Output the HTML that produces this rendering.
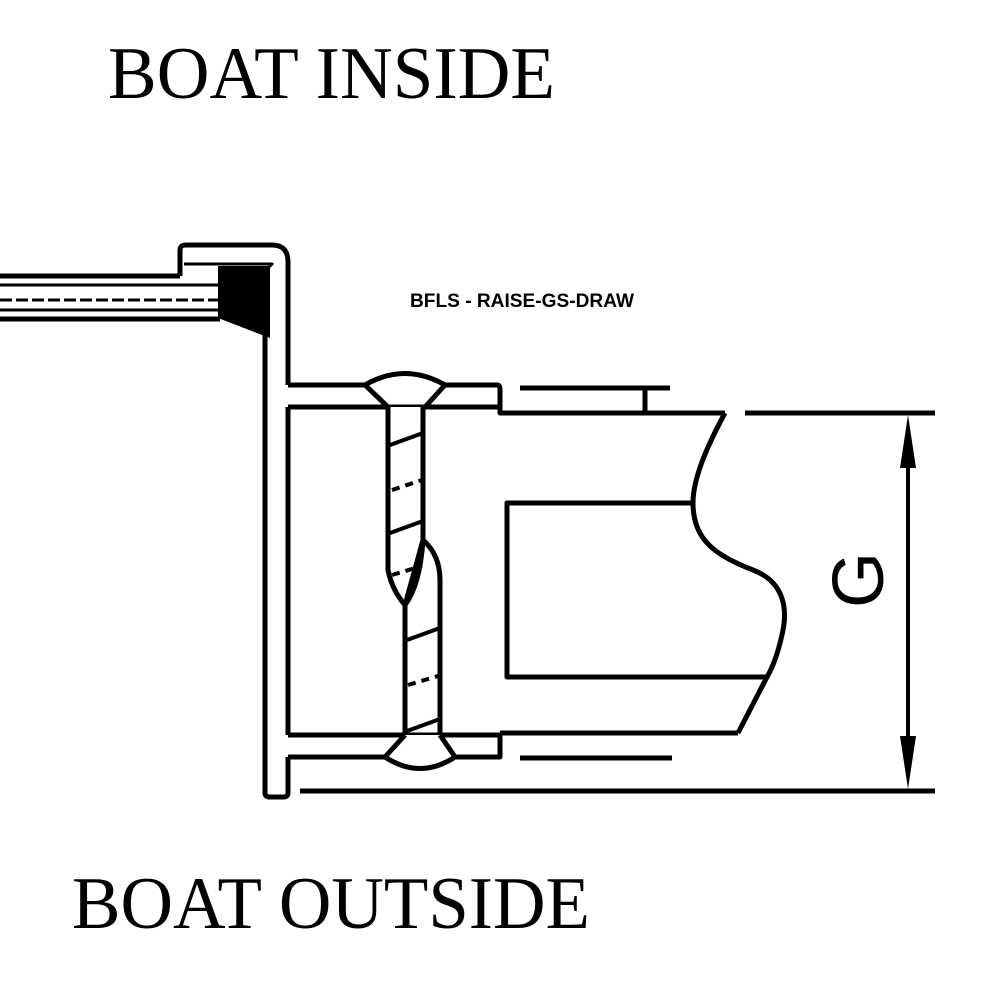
<!DOCTYPE html>
<html><head><meta charset="utf-8"><style>html,body{margin:0;padding:0;background:#fff}svg{display:block}</style></head>
<body>
<svg width="988" height="988" viewBox="0 0 988 988" xmlns="http://www.w3.org/2000/svg">
<rect width="988" height="988" fill="#fff"/>
<text x="108" y="98" font-family="Liberation Serif, serif" font-size="74" textLength="447" lengthAdjust="spacingAndGlyphs">BOAT INSIDE</text>
<text x="72" y="928" font-family="Liberation Serif, serif" font-size="74" textLength="518" lengthAdjust="spacingAndGlyphs">BOAT OUTSIDE</text>
<text x="410" y="307" font-family="Liberation Sans, sans-serif" font-weight="bold" font-size="19" textLength="224" lengthAdjust="spacingAndGlyphs">BFLS - RAISE-GS-DRAW</text>

<g fill="none" stroke="#000" stroke-width="5" stroke-linejoin="round">
<!-- panel lines -->
<line x1="0" y1="276" x2="180" y2="276"/>
<line x1="0" y1="285" x2="220" y2="285" stroke-width="3"/>
<line x1="0" y1="300" x2="220" y2="300" stroke-width="3" stroke-dasharray="12,4"/>
<line x1="0" y1="310" x2="220" y2="310" stroke-width="3"/>
<line x1="0" y1="319" x2="220" y2="319"/>
<!-- cap -->
<path d="M180 276 V250 Q180 245 186 245 H272 Q288 245 288 262 V385"/>
<path d="M184 264 H272 L268 268" stroke-width="3"/>
<!-- black block -->
<path d="M218 266 H270 V338 L218 318 Z" fill="#000" stroke="none"/>
<!-- plate -->
<path d="M265 330 V793 Q265 797 270 797 H283 Q288 797 288 793 V757"/>
<line x1="288" y1="407" x2="288" y2="735"/>
<!-- top flange -->
<path d="M288 385 H497 Q500 385 500 390 V413 H725"/>
<line x1="288" y1="407" x2="500" y2="407"/>
<!-- bottom flange -->
<path d="M288 735 H500 V757 H288"/>
<line x1="500" y1="733" x2="738" y2="733"/>
<!-- short lines -->
<line x1="520" y1="388" x2="670" y2="388"/>
<line x1="645" y1="388" x2="645" y2="412"/>
<line x1="520" y1="758" x2="672" y2="758"/>
<line x1="300" y1="791" x2="935" y2="791"/>
<line x1="745" y1="413" x2="935" y2="413"/>
<!-- break curve -->
<path d="M725 413 C705 450 693 480 693 503 C693 540 715 555 753 570 C785 582 787 610 783 630 C779 650 774 665 767 677 L738 733"/>
<!-- inner rect -->
<path d="M693 503 H507 V677 H767"/>
<!-- dimension -->
<line x1="908" y1="440" x2="908" y2="765" stroke-width="4"/>
</g>
<path d="M908 415 L900 468 H916 Z M908 789 L900 736 H916 Z" fill="#000"/>
<text x="0" y="0" transform="translate(883 580) rotate(-90)" text-anchor="middle" font-family="Liberation Sans, sans-serif" font-size="72">G</text>

<!-- screw -->
<g fill="#fff" stroke="#000" stroke-width="5" stroke-linejoin="round">
<path d="M365 385 Q405 362 445 385 L425 407 H388 Z"/>
<path d="M388 407 V570 Q392 590 405 605 L423 540 V407"/>
<path d="M405 605 Q420 585 423 540 Q440 555 440 580 V735 H405 Z"/>
<path d="M405 735 L385 757 Q420 780 455 757 L440 735"/>
</g>
<g stroke="#000" stroke-width="4">
<line x1="390" y1="445" x2="423" y2="433"/>
<line x1="390" y1="533" x2="423" y2="521"/>
<line x1="407" y1="640" x2="440" y2="628"/>
<line x1="407" y1="731" x2="440" y2="719"/>
<line x1="392" y1="490" x2="422" y2="480" stroke-dasharray="8,6"/>
<line x1="392" y1="575" x2="422" y2="566" stroke-dasharray="8,6"/>
<line x1="408" y1="685" x2="438" y2="676" stroke-dasharray="8,6"/>
</g>
</svg>
</body></html>
